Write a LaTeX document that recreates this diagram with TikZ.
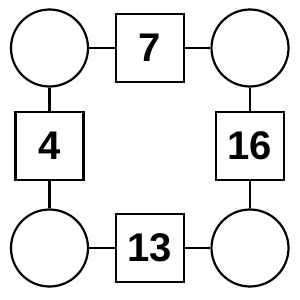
\documentclass[tikz,border=0pt]{standalone}
\usepackage{fontspec}
\setmainfont{Liberation Sans}
\usetikzlibrary{positioning}

\begin{document}
\begin{tikzpicture}[x=1pt,y=-1pt,line width=2.2pt,
  feld/.style={draw,circle,minimum size=77pt,inner sep=0pt},
  zahl/.style={draw,rectangle,minimum size=68pt,inner sep=0pt,font=\fontsize{40}{40}\selectfont\bfseries}]
% Rahmen (300 x 300 px)
\useasboundingbox (0,0) rectangle (300,300);

% Spalten und Zeilen
\def\xa{49.5} \def\xb{150} \def\xc{250}
\def\ya{48}   \def\yb{146} \def\yc{248}

% Kreise in den Ecken
\node[feld] (lo) at (\xa,\ya) {};
\node[feld] (ro) at (\xc,\ya) {};
\node[feld] (lu) at (\xa,\yc) {};
\node[feld] (ru) at (\xc,\yc) {};

% Quadrate mit Zahlen
\node[zahl] (oben)   at (\xb,\ya) {7};
\node[zahl] (links)  at (\xa,\yb) {4};
\node[zahl] (rechts) at (\xc,\yb) {16};
\node[zahl] (unten)  at (\xb,\yc) {13};

% Verbindungen
\draw (lo) -- (oben) -- (ro);
\draw (lo) -- (links) -- (lu);
\draw (ro) -- (rechts) -- (ru);
\draw (lu) -- (unten) -- (ru);
\end{tikzpicture}
\end{document}
